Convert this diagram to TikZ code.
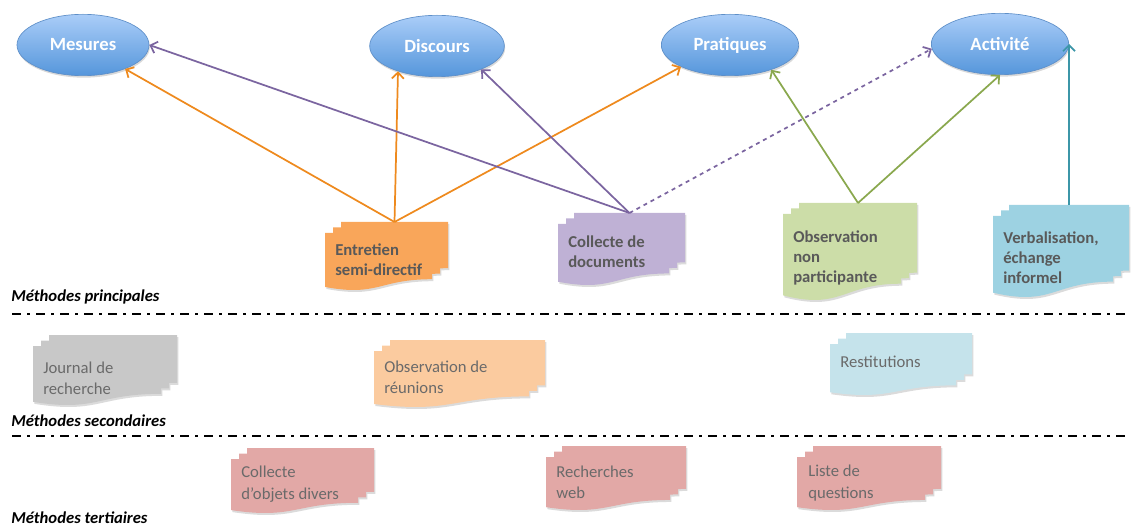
\documentclass[tikz,border=0pt]{standalone}
\usepackage{fontspec}
\setmainfont{Carlito}
\usetikzlibrary{arrows.meta,shadows,shapes.geometric,positioning}

\definecolor{ellTop}{HTML}{AACDF8}
\definecolor{ellBot}{HTML}{5596DB}
\definecolor{ellLine}{HTML}{5E8FC8}
\definecolor{docText}{HTML}{595959}
\definecolor{orangeLine}{HTML}{EE8A1E}
\definecolor{purpleLine}{HTML}{7B65A0}
\definecolor{greenLine}{HTML}{8AA84E}
\definecolor{tealLine}{HTML}{3C96A8}
\definecolor{entretienFill}{HTML}{F9A65A}
\definecolor{collecteFill}{HTML}{BFB1D5}
\definecolor{observFill}{HTML}{CCDDA8}
\definecolor{verbalFill}{HTML}{9DD2E2}
\definecolor{journalFill}{HTML}{C8C8C8}
\definecolor{reunionFill}{HTML}{FBCB9F}
\definecolor{restitFill}{HTML}{C5E3EB}
\definecolor{tertFill}{HTML}{E2A8A6}

\newcommand{\docdx}{8}
\newcommand{\docdy}{5.5}

% one page of a stack, top left corner at (#1,#2)
\newcommand{\docpage}[3]{%
  \path[#3] (#1,#2) -- ++(\docW,0) -- ({#1+\docW},{#2+0.80*\docH})
    .. controls ({#1+0.5*\docW},{#2+0.80*\docH}) and ({#1+0.5*\docW},{#2+1.107*\docH})
    .. (#1,{#2+0.934*\docH}) -- cycle;}

% stack of three pages: name, left, top, right, bottom, colour
\newcommand{\multidoc}[6]{%
  \pgfmathsetmacro{\docW}{#4-#2-2*\docdx}%
  \pgfmathsetmacro{\docH}{(#5-#3-2*\docdy)/0.987}%
  \foreach \k in {2,1,0}{%
    \pgfmathsetmacro{\pl}{#2+\k*\docdx}%
    \pgfmathsetmacro{\pt}{#3+(2-\k)*\docdy}%
    \docpage{\pl}{\pt}{fill=black!14, xshift=1pt, yshift=-1.5pt}}%
  \foreach \k in {2,1,0}{%
    \pgfmathsetmacro{\pl}{#2+\k*\docdx}%
    \pgfmathsetmacro{\pt}{#3+(2-\k)*\docdy}%
    \docpage{\pl}{\pt}{fill=#6}}%
  \coordinate (#1) at ({#2+2*\docdx+0.5*\docW},#3);}

\tikzset{
  goal/.style={ellipse, draw=ellLine, line width=0.5pt, top color=ellTop, bottom color=ellBot,
    minimum height=46pt, inner sep=0pt, text=white, font=\fontsize{14}{16}\selectfont\bfseries,
    drop shadow={shadow xshift=0.6pt, shadow yshift=-1.5pt, opacity=0.3}},
  primtext/.style={anchor=west, align=left, inner sep=0pt, text=docText,
    font=\fontsize{12.5}{15}\selectfont\bfseries},
  sectext/.style={anchor=west, align=left, inner sep=0pt, text=docText!90,
    font=\fontsize{12.5}{15.5}\selectfont},
  terttext/.style={anchor=west, align=left, inner sep=0pt, text=docText!90,
    font=\fontsize{12.5}{16}\selectfont},
  seclabel/.style={anchor=west, inner sep=0pt, font=\fontsize{12.5}{14}\selectfont\bfseries\itshape},
  sepline/.style={line width=2pt, dash pattern=on 7pt off 4.5pt on 2pt off 4.5pt},
  link/.style={line width=1.3pt, -{Straight Barb[length=4.5pt,width=9pt,line width=1.3pt]}}
}

\begin{document}
\begin{tikzpicture}[x=0.75pt,y=-0.75pt]
  \useasboundingbox (0,0) rectangle (1131,527);

  % objects of study
  \node[goal, minimum width=99pt]  (mesures)   at (83,45)   {Mesures};
  \node[goal, minimum width=101pt] (discours)  at (437,46)  {Discours};
  \node[goal, minimum width=103pt] (pratiques) at (730,45)  {Pratiques};
  \node[goal, minimum width=103pt] (activite)  at (1000,44) {Activité};

  % main methods
  \multidoc{entretien}{325}{222}{448}{290}{entretienFill}
  \multidoc{collecte}{558}{213}{685}{285}{collecteFill}
  \multidoc{observation}{783}{203}{917}{300}{observFill}
  \multidoc{verbal}{993}{205}{1129}{297}{verbalFill}
  \node[primtext] (entretien-txt)   at (335,260) {Entretien\\semi-directif};
  \node[primtext] (collecte-txt)    at (568,252) {Collecte de\\documents};
  \node[primtext] (observation-txt) at (793,258) {Observation\\non\\participante};
  \node[primtext] (verbal-txt)      at (1003,258) {Verbalisation,\\échange\\informel};

  % secondary methods
  \multidoc{journal}{33}{335}{177}{405}{journalFill}
  \multidoc{reunion}{374}{340}{545}{407}{reunionFill}
  \multidoc{restit}{830}{333}{972}{395}{restitFill}
  \node[sectext] (journal-txt) at (43,378)  {Journal de\\recherche};
  \node[sectext] (reunion-txt) at (384,377) {Observation de\\réunions};
  \node[sectext] (restit-txt)  at (840,362) {Restitutions};

  % tertiary methods
  \multidoc{objets}{231}{448}{374}{513}{tertFill}
  \multidoc{web}{546}{446}{686}{510}{tertFill}
  \multidoc{questions}{797}{446}{941}{510}{tertFill}
  \node[terttext] (objets-txt)    at (241,484) {Collecte\\d'objets divers};
  \node[terttext] (web-txt)       at (556,482) {Recherches\\web};
  \node[terttext] (questions-txt) at (808,483) {Liste de\\questions};

  % levels
  \node[seclabel] (principales) at (11,297) {Méthodes principales};
  \node[seclabel] (secondaires) at (11,421) {Méthodes secondaires};
  \node[seclabel] (tertiaires)  at (11,518) {Méthodes tertiaires};
  \draw[sepline] (12,314) -- (1131,314);
  \draw[sepline] (12,436) -- (1131,436);

  % links
  \path (entretien)   edge[link, orangeLine] (mesures);
  \path (entretien)   edge[link, orangeLine] (discours.213);
  \path (entretien)   edge[link, orangeLine] (pratiques.204);
  \path (collecte)    edge[link, purpleLine] (mesures.east);
  \path (collecte)    edge[link, purpleLine] (discours.332);
  \path (collecte)    edge[link, purpleLine, dashed] (activite.184);
  \path (observation) edge[link, greenLine] (pratiques.329);
  \path (observation) edge[link, greenLine] (activite.south);
  \path (verbal)      edge[link, tealLine] (verbal |- activite.east);

\end{tikzpicture}
\end{document}
